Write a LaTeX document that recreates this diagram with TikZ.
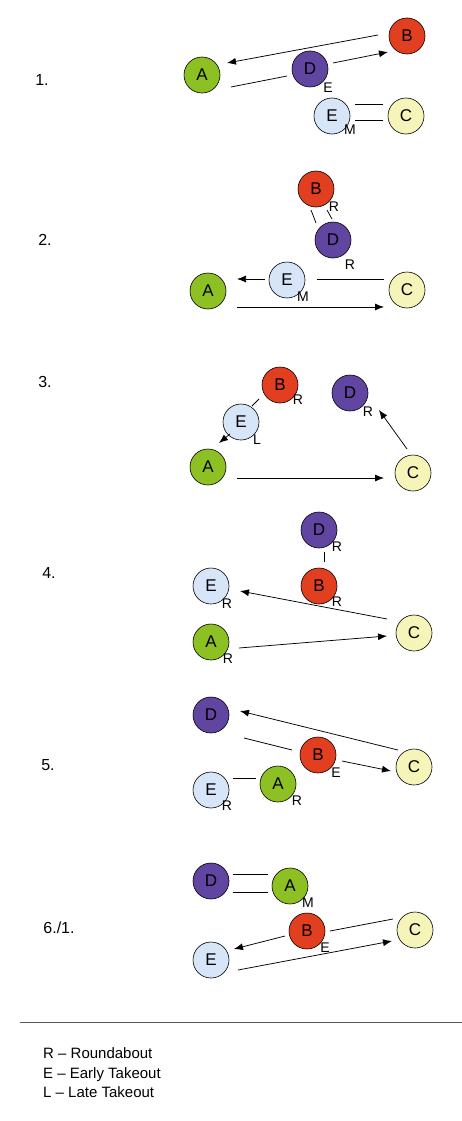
\documentclass[tikz,border=0pt]{standalone}
\usepackage{fontspec}
\setmainfont{Liberation Sans}
\usetikzlibrary{arrows.meta}
\definecolor{cA}{RGB}{140,192,35}
\definecolor{cB}{RGB}{226,62,32}
\definecolor{cC}{RGB}{246,245,185}
\definecolor{cD}{RGB}{96,70,160}
\definecolor{cE}{RGB}{214,230,248}
\begin{document}
\begin{tikzpicture}[x=1pt,y=-1pt,
 ball/.style={circle,draw=black,line width=0.6pt,minimum size=36pt,inner sep=0pt,font=\fontsize{17}{17}\selectfont},
 bA/.style={ball,fill=cA}, bB/.style={ball,fill=cB}, bC/.style={ball,fill=cC},
 bD/.style={ball,fill=cD}, bE/.style={ball,fill=cE},
 tag/.style={font=\fontsize{14}{14}\selectfont,inner sep=0pt},
 num/.style={font=\fontsize{16}{16}\selectfont,inner sep=0pt},
 leg/.style={font=\fontsize{15}{15}\selectfont,inner sep=0pt,anchor=base west},
 link/.style={line width=0.75pt},
 arr/.style={link,-{Latex[length=9pt,width=7pt]}}]
\useasboundingbox[fill=white] (0,0) rectangle (462,1121);

% ---------- 1 ----------
\node[num] (n1) at (42,80) {1.};
\node[bA] (A1) at (202,75) {A};
\node[bB] (B1) at (407,36) {B};
\node[bD] (D1) at (310,69) {D};
\node[bE] (E1) at (332,116) {E};
\node[bC] (C1) at (406,116) {C};
\node[tag] (t1a) at (328,88) {E};
\node[tag] (t1b) at (350,130) {M};
\coordinate (p1a) at (378,35); \coordinate (p1b) at (227,63);
\coordinate (p1c) at (231,87); \coordinate (p1d) at (287,76);
\coordinate (p1e) at (333,63); \coordinate (p1f) at (388,52);
\coordinate (p1g) at (355,104); \coordinate (p1h) at (383,104);
\coordinate (p1i) at (355,120); \coordinate (p1j) at (383,120);
\draw[arr] (p1a) -- (p1b);
\draw[link] (p1c) -- (p1d);
\draw[arr] (p1e) -- (p1f);
\draw[link] (p1g) -- (p1h);
\draw[link] (p1i) -- (p1j);

% ---------- 2 ----------
\node[num] (n2) at (45,240) {2.};
\node[bB] (B2) at (316,189) {B};
\node[bD] (D2) at (333,240) {D};
\node[bE] (E2) at (287,280) {E};
\node[bA] (A2) at (208,291) {A};
\node[bC] (C2) at (407,290) {C};
\node[tag] (t2a) at (334,207) {R};
\node[tag] (t2b) at (350,265) {R};
\node[tag] (t2c) at (303,297) {M};
\coordinate (p2a) at (311,210); \coordinate (p2b) at (316,223);
\coordinate (p2c) at (327,210); \coordinate (p2d) at (332,219);
\coordinate (p2e) at (265,279); \coordinate (p2f) at (237,279);
\coordinate (p2g) at (317,279); \coordinate (p2h) at (384,279);
\coordinate (p2i) at (237,307); \coordinate (p2j) at (384,307);
\draw[link] (p2a) -- (p2b);
\draw[link] (p2c) -- (p2d);
\draw[arr] (p2e) -- (p2f);
\draw[link] (p2g) -- (p2h);
\draw[arr] (p2i) -- (p2j);

% ---------- 3 ----------
\node[num] (n3) at (45,382) {3.};
\node[bB] (B3) at (280,385) {B};
\node[bD] (D3) at (350,393) {D};
\node[bE] (E3) at (241,422) {E};
\node[bA] (A3) at (208,467) {A};
\node[bC] (C3) at (413,473) {C};
\node[tag] (t3a) at (298,400) {R};
\node[tag] (t3b) at (368,412) {R};
\node[tag] (t3c) at (257,440) {L};
\coordinate (p3a) at (259,399); \coordinate (p3b) at (252,406);
\coordinate (p3c) at (230,434); \coordinate (p3d) at (219,443);
\coordinate (p3e) at (237,478); \coordinate (p3f) at (384,478);
\coordinate (p3g) at (407,449); \coordinate (p3h) at (379,410);
\draw[link] (p3a) -- (p3b);
\draw[arr] (p3c) -- (p3d);
\draw[arr] (p3e) -- (p3f);
\draw[arr] (p3g) -- (p3h);

% ---------- 4 ----------
\node[num] (n4) at (49,573) {4.};
\node[bD] (D4) at (319,530) {D};
\node[bB] (B4) at (319,586) {B};
\node[bE] (E4) at (211,586) {E};
\node[bA] (A4) at (211,642) {A};
\node[bC] (C4) at (414,633) {C};
\node[tag] (t4a) at (337,547) {R};
\node[tag] (t4b) at (337,602) {R};
\node[tag] (t4c) at (227,604) {R};
\node[tag] (t4d) at (228,659) {R};
\coordinate (p4a) at (324,552); \coordinate (p4b) at (324,562);
\coordinate (p4c) at (387,619); \coordinate (p4d) at (240,591);
\coordinate (p4e) at (239,648); \coordinate (p4f) at (387,636);
\draw[link] (p4a) -- (p4b);
\draw[arr] (p4c) -- (p4d);
\draw[arr] (p4e) -- (p4f);

% ---------- 5 ----------
\node[num] (n5) at (48,765) {5.};
\node[bD] (D5) at (211,715) {D};
\node[bB] (B5) at (318,755) {B};
\node[bC] (C5) at (414,767) {C};
\node[bE] (E5) at (211,790) {E};
\node[bA] (A5) at (278,784) {A};
\node[tag] (t5a) at (336,773) {E};
\node[tag] (t5b) at (227,806) {R};
\node[tag] (t5c) at (297,801) {R};
\coordinate (p5a) at (398,750); \coordinate (p5b) at (240,711);
\coordinate (p5c) at (244,738); \coordinate (p5d) at (292,750);
\coordinate (p5e) at (342,761); \coordinate (p5f) at (391,771);
\coordinate (p5g) at (233,778); \coordinate (p5h) at (256,778);
\draw[arr] (p5a) -- (p5b);
\draw[link] (p5c) -- (p5d);
\draw[arr] (p5e) -- (p5f);
\draw[link] (p5g) -- (p5h);

% ---------- 6 ----------
\node[num] (n6) at (59,928) {6./1.};
\node[bD] (D6) at (211,881) {D};
\node[bA] (A6) at (290,886) {A};
\node[bB] (B6) at (307,931) {B};
\node[bC] (C6) at (415,930) {C};
\node[bE] (E6) at (211,960) {E};
\node[tag] (t6a) at (308,903) {M};
\node[tag] (t6b) at (325,948) {E};
\coordinate (p6a) at (233,874); \coordinate (p6b) at (268,874);
\coordinate (p6c) at (233,892); \coordinate (p6d) at (268,892);
\coordinate (p6e) at (285,936); \coordinate (p6f) at (234,949);
\coordinate (p6g) at (393,919); \coordinate (p6h) at (330,931);
\coordinate (p6i) at (238,970); \coordinate (p6j) at (392,941);
\draw[link] (p6a) -- (p6b);
\draw[link] (p6c) -- (p6d);
\draw[arr] (p6e) -- (p6f);
\draw[link] (p6g) -- (p6h);
\draw[arr] (p6i) -- (p6j);

% ---------- legend ----------
\coordinate (r1) at (20,1022); \coordinate (r2) at (462,1022);
\draw[line width=0.9pt,black!65] (r1) -- (r2);
\node[leg] (L1) at (43,1058) {R -- Roundabout};
\node[leg] (L2) at (43,1078) {E -- Early Takeout};
\node[leg] (L3) at (43,1097) {L -- Late Takeout};
\end{tikzpicture}
\end{document}
